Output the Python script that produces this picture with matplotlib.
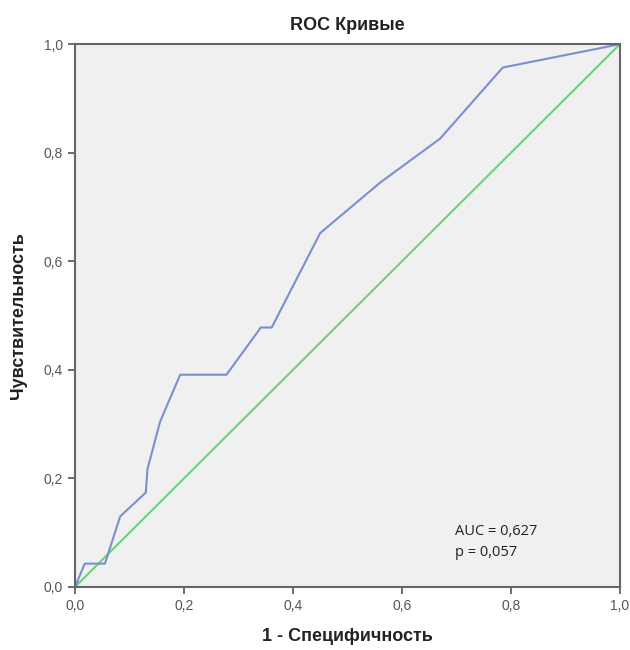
import matplotlib
matplotlib.use("Agg")
import matplotlib.pyplot as plt

# ROC curve points
fpr = [0.0, 0.018, 0.055, 0.083, 0.130, 0.133, 0.156, 0.193, 0.278, 0.341, 0.361, 0.450, 0.560, 0.670, 0.785, 1.0]
tpr = [0.0, 0.043, 0.043, 0.130, 0.174, 0.217, 0.304, 0.391, 0.391, 0.478, 0.478, 0.652, 0.745, 0.826, 0.957, 1.0]
ticks = [0.0, 0.2, 0.4, 0.6, 0.8, 1.0]
tick_labels = ["0,0", "0,2", "0,4", "0,6", "0,8", "1,0"]

plt.rcParams["font.family"] = ["Liberation Sans", "DejaVu Sans"]

fig = plt.figure(figsize=(6.3, 6.5), dpi=100)
ax = fig.add_axes([0.119, 0.097, 0.865, 0.835])
ax.set_facecolor("#f0f0f0")

ax.plot([0, 1], [0, 1], color="#6fcf7f", lw=1.5)
ax.plot(fpr, tpr, color="#7a8fd0", lw=1.5)

ax.set_xlim(0, 1)
ax.set_ylim(0, 1)
ax.set_xticks(ticks)
ax.set_xticklabels(tick_labels)
ax.set_yticks(ticks)
ax.set_yticklabels(tick_labels)
ax.tick_params(direction="out", length=5, width=1.2, color="#555555",
               labelcolor="#555555", labelsize=10)
for s in ax.spines.values():
    s.set_color("#666666")
    s.set_linewidth(1.5)

ax.set_title("ROC Кривые", fontsize=13, fontweight="bold", color="#222222", pad=10)
ax.set_xlabel("1 - Специфичность", fontsize=13, fontweight="bold", color="#222222", labelpad=11)
ax.set_ylabel("Чувствительность", fontsize=13, fontweight="bold", color="#222222", labelpad=12)

ax.text(0.697, 0.095, "AUC = 0,627", fontsize=10.5, family=["Open Sans", "DejaVu Sans"], color="#222222")
ax.text(0.697, 0.057, "p = 0,057", fontsize=10.5, family=["Open Sans", "DejaVu Sans"], color="#222222")

fig.savefig("out.png", dpi=100)
